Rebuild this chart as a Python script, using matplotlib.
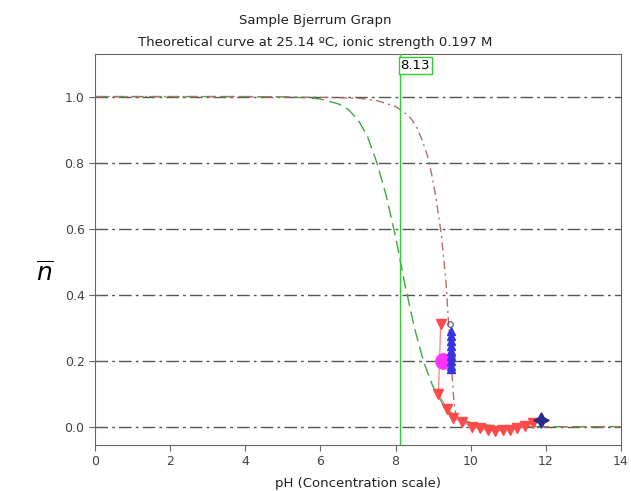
import matplotlib
matplotlib.use("Agg")
import matplotlib.pyplot as plt

# theoretical curve (green, long dashes)
theo_ph = [0, 2, 4, 5, 5.5, 6, 6.5, 6.75, 7, 7.25, 7.5, 7.75, 8.0, 8.25, 8.5,
           8.75, 9.0, 9.25, 9.5, 9.75, 10.0, 10.5, 11, 12, 14]
theo_n = [1.0, 1.0, 1.0, 0.999, 0.997, 0.993, 0.977, 0.96, 0.93, 0.88, 0.80, 0.70,
          0.575, 0.43, 0.30, 0.195, 0.12, 0.07, 0.04, 0.022, 0.012, 0.004, 0.001, 0.0, 0.0]

# fitted curve (brown, dash-dot)
fit_ph = [0, 4, 6, 7, 7.5, 8.0, 8.2, 8.4, 8.55, 8.7, 8.85, 8.95, 9.05, 9.15, 9.22,
          9.28, 9.34, 9.40, 9.45, 9.50, 9.55, 9.60, 9.7, 10.5, 12, 14]
fit_n = [1.0, 1.0, 0.998, 0.995, 0.988, 0.97, 0.955, 0.935, 0.91, 0.87, 0.82, 0.77,
         0.71, 0.635, 0.58, 0.51, 0.44, 0.33, 0.25, 0.16, 0.08, 0.04, 0.015, 0.002, 0.0, 0.0]

# measured points (red down triangles)
meas_ph = [9.20, 9.14, 9.36, 9.54, 9.76, 10.03, 10.25, 10.47, 10.65, 10.87, 11.05,
           11.22, 11.45, 11.67]
meas_n = [0.31, 0.10, 0.055, 0.027, 0.015, 0.0, -0.005, -0.01, -0.013, -0.01, -0.01,
          -0.005, 0.002, 0.01]
extra_ph = [9.45]
extra_n = [0.20]

# blue up triangles
blue_ph = [9.47] * 9
blue_n = [0.29, 0.275, 0.26, 0.245, 0.23, 0.215, 0.20, 0.185, 0.175]

pka = 8.13

fig = plt.figure(figsize=(6.31, 4.91), dpi=100)
ax = fig.add_axes([0.1506, 0.094, 0.8336, 0.796])

ax.set_xlim(0, 14)
ax.set_ylim(-0.055, 1.129)
yt = [0.0, 0.2, 0.4, 0.6, 0.8, 1.0]
ax.set_yticks(yt)
ax.set_yticklabels(["%.1f" % v for v in yt])
ax.set_xticks(range(0, 15, 2))

for v in yt:
    ax.axhline(v, color="#555555", lw=1.0, ls=(0, (9, 3, 2, 3)), zorder=1)

ax.plot(theo_ph, theo_n, color="#3aaa3a", lw=1.0, ls=(0, (9, 4)), zorder=2)
ax.plot(fit_ph, fit_n, color="#b86a6a", lw=1.0, ls=(0, (6, 3, 1.5, 3)), zorder=2)

ax.axvline(pka, color="#33cc33", lw=1.0, zorder=3)
ax.text(pka, 1.115, "%.2f" % pka, ha="left", va="top", fontsize=9.5,
        bbox=dict(boxstyle="square,pad=0.15", fc="white", ec="#33cc33", lw=1))

ax.plot(meas_ph, meas_n, color="#ff8c8c", lw=1.0, marker="v", ms=7.5,
        mfc="#ff4a4a", mec="#ff4a4a", zorder=4)
ax.plot(extra_ph, extra_n, ls="none", marker="v", ms=7.5, mfc="#ff4a4a",
        mec="#ff4a4a", zorder=4)
ax.plot(blue_ph, blue_n, ls="none", marker="^", ms=6, mfc="#3535e0",
        mec="#3535e0", zorder=5)
ax.plot([9.27], [0.20], ls="none", marker="o", ms=11, mfc="#ff33ff",
        mec="#ff33ff", zorder=4)
ax.plot([9.45], [0.31], ls="none", marker="o", ms=4, mfc="none",
        mec="#555555", mew=0.8, zorder=6)
ax.plot([11.87], [0.02], ls="none", marker=(4, 1, 0), ms=11, color="#2a2a8a",
        zorder=6)

for s in ax.spines.values():
    s.set_color("#666666")
ax.tick_params(axis="x", direction="out", length=4, colors="#666666",
               labelcolor="#444444", labelsize=9)
ax.tick_params(axis="y", direction="inout", length=8, colors="#666666",
               labelcolor="#444444", labelsize=9)

ax.set_xlabel("pH (Concentration scale)", fontsize=9.5, color="#222222", labelpad=6)
ax.text(-0.095, 0.44, r"$\overline{n}$", transform=ax.transAxes, fontsize=18,
        ha="center", va="center")
fig.text(0.5, 0.959, "Sample Bjerrum Grapn", ha="center", va="center",
         fontsize=9.5, color="#222222")
fig.text(0.5, 0.914, "Theoretical curve at 25.14 \u00baC, ionic strength 0.197 M",
         ha="center", va="center", fontsize=9.5, color="#222222")

fig.savefig("out.png", dpi=100)
